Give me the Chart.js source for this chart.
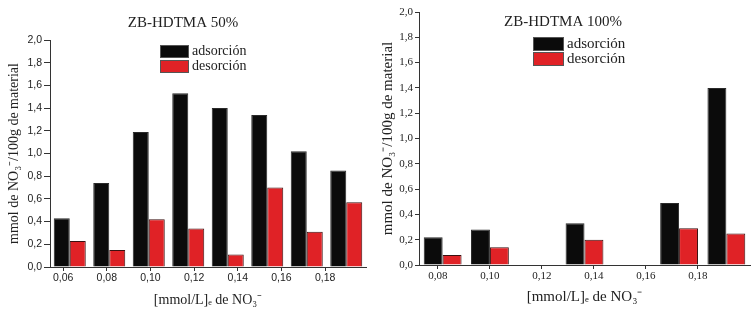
<!DOCTYPE html>
<html>
<head>
<meta charset="utf-8">
<script src="https://cdn.jsdelivr.net/npm/chart.js@4.4.0/dist/chart.umd.min.js"></script>
<style>
    body { margin: 0; background: #fff; }
    #wrap { position: relative; width: 752px; height: 309px; }
    canvas { position: absolute; top: 0; }
</style>
</head>
<body>
<div id="wrap">
    <canvas id="ChartLeft" width="376" height="309" style="left:0px"></canvas>
    <canvas id="ChartRight" width="376" height="309" style="left:376px"></canvas>
</div>
<script>
// ZB-HDTMA 50% (left)
const groupsLeft     = ['G1', 'G2', 'G3', 'G4', 'G5', 'G6', 'G7', 'G8'];
const adsorcionLeft  = [0.43, 0.74, 1.19, 1.53, 1.40, 1.34, 1.02, 0.85];
const desorcionLeft  = [0.23, 0.15, 0.42, 0.34, 0.11, 0.70, 0.31, 0.57];
const xTicksLeft     = [0.06, 0.08, 0.10, 0.12, 0.14, 0.16, 0.18];
const xRangeLeft     = [0.054, 0.1987];

// ZB-HDTMA 100% (right)
const groupsRight    = ['G1', 'G2', 'G3', 'G4', 'G5', 'G6', 'G7'];
const adsorcionRight = [0.22, 0.28, null, 0.33, null, 0.49, 1.40];
const desorcionRight = [0.08, 0.14, null, 0.20, null, 0.29, 0.25];
const xTicksRight    = [0.08, 0.10, 0.12, 0.14, 0.16, 0.18];
const xRangeRight    = [0.0727, 0.20];

const yTitle = 'mmol de NO\u2083\u207B/100g de material';
const xTitle = '[mmol/L]\u2091 de NO\u2083\u207B';

const SERIF = "'Liberation Serif', 'Times New Roman', serif";
const NARROW = "'Liberation Sans Narrow', 'Liberation Sans', Arial, sans-serif";

// draws the little stacked legend inside the plot
const boxLegend =
{
    id: 'boxLegend',
    afterDatasetsDraw(chart, args, opts)
    {
        const ctx = chart.ctx;
        ctx.save();
        ctx.font = opts.font;
        ctx.textBaseline = 'middle';
        chart.data.datasets.forEach((ds, i) =>
        {
            const y = opts.y + i * opts.rowH;
            ctx.fillStyle = ds.backgroundColor;
            ctx.fillRect(opts.x, y, opts.boxW, opts.boxH);
            ctx.strokeStyle = '#555';
            ctx.lineWidth = 1;
            ctx.strokeRect(opts.x + 0.5, y + 0.5, opts.boxW - 1, opts.boxH - 1);
            ctx.fillStyle = '#222';
            ctx.fillText(ds.label, opts.x + opts.boxW + 3, y + opts.boxH / 2);
        });
        ctx.restore();
    }
};

function Comma(v, digits)
{
    return v.toFixed(digits).replace('.', ',');
}

function CreateChart(id, s)
{
    const ctx = document.getElementById(id).getContext('2d');
    return new Chart(ctx,
    {
        type: 'bar',
        data:
        {
            labels: s.groups,
            datasets:
            [
                {
                    label: 'adsorción',
                    data: s.ads,
                    backgroundColor: '#0b0b0b',
                    borderColor: '#2a2a2a',
                    borderWidth: 1
                },
                {
                    label: 'desorción',
                    data: s.des,
                    backgroundColor: '#e02226',
                    borderColor: '#3a1010',
                    borderWidth: 1
                }
            ]
        },
        plugins: [boxLegend],
        options:
        {
            responsive: false,
            animation: false,
            layout: { padding: { left: 0, right: s.padRight, top: 0, bottom: 0 } },
            datasets:
            {
                bar: { categoryPercentage: s.catPct, barPercentage: 1 }
            },
            plugins:
            {
                legend: { display: false },
                tooltip: { enabled: false },
                title:
                {
                    display: true,
                    text: s.title,
                    color: '#222',
                    font: { family: SERIF, size: 15, weight: 'normal', lineHeight: 1.2 },
                    padding: s.titlePad
                },
                boxLegend: s.legend
            },
            scales:
            {
                x:
                {
                    type: 'category',
                    display: false,
                    offset: true
                },
                xv:
                {
                    type: 'linear',
                    position: 'bottom',
                    offset: false,
                    min: s.xRange[0],
                    max: s.xRange[1],
                    afterBuildTicks: (scale) => { scale.ticks = s.xTicks.map(v => ({ value: v })); },
                    afterFit: (scale) => { scale.height = s.xHeight; },
                    ticks:
                    {
                        callback: (v) => Comma(v, 2),
                        color: '#222',
                        padding: 1,
                        maxRotation: 0,
                        font: s.tickFont
                    },
                    grid: { offset: false, drawOnChartArea: false, tickLength: 4, tickColor: '#333' },
                    border: { display: true, color: '#333', width: 1 },
                    title:
                    {
                        display: true,
                        text: xTitle,
                        color: '#222',
                        font: { family: SERIF, size: s.xTitleSize, lineHeight: 1.2 },
                        padding: { top: 0, bottom: s.xTitlePadB }
                    }
                },
                y:
                {
                    min: 0,
                    max: 2,
                    afterFit: (scale) => { scale.width = s.yWidth; },
                    ticks:
                    {
                        stepSize: 0.2,
                        callback: (v) => Comma(v, 1),
                        color: '#222',
                        padding: 2,
                        font: s.tickFont
                    },
                    grid: { drawOnChartArea: false, tickLength: s.yTickLen, tickColor: '#333' },
                    border: { display: true, color: '#333', width: 1 },
                    title:
                    {
                        display: true,
                        text: yTitle,
                        color: '#222',
                        font: { family: SERIF, size: s.yTitleSize, lineHeight: 1.2 },
                        padding: { top: s.yTitlePadT, bottom: 0 }
                    }
                }
            }
        }
    });
}

CreateChart('ChartLeft',
{
    groups: groupsLeft, ads: adsorcionLeft, des: desorcionLeft,
    xTicks: xTicksLeft, xRange: xRangeLeft,
    title: 'ZB-HDTMA 50%',
    titlePad: { top: 14, bottom: 8 },
    padRight: 10, catPct: 0.81,
    xHeight: 42, yWidth: 50, yTickLen: 6,
    tickFont: { family: NARROW, size: 10.5 },
    xTitleSize: 14, xTitlePadB: 0,
    yTitleSize: 14, yTitlePadT: 6,
    legend: { x: 160, y: 45, boxW: 29, boxH: 13, rowH: 15, font: '14px ' + SERIF }
});

CreateChart('ChartRight',
{
    groups: groupsRight, ads: adsorcionRight, des: desorcionRight,
    xTicks: xTicksRight, xRange: xRangeRight,
    title: 'ZB-HDTMA 100%',
    titlePad: { top: 13, bottom: -19 },
    padRight: 2, catPct: 0.80,
    xHeight: 44, yWidth: 43, yTickLen: 4,
    tickFont: { family: SERIF, size: 11 },
    xTitleSize: 15, xTitlePadB: 3,
    yTitleSize: 15, yTitlePadT: 3,
    legend: { x: 157, y: 37, boxW: 31, boxH: 14, rowH: 15, font: '15px ' + SERIF }
});
</script>
</body>
</html>
